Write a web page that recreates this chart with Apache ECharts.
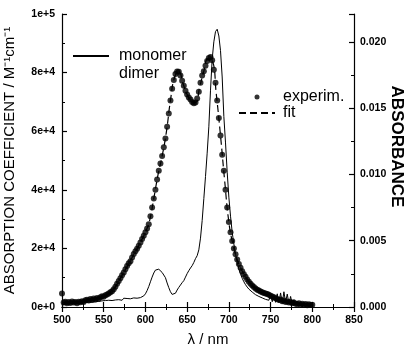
<!DOCTYPE html>
<html>
<head>
<meta charset="utf-8">
<script src="https://cdn.jsdelivr.net/npm/echarts@6.0.0/dist/echarts.min.js"></script>
<style>
  html, body { margin: 0; padding: 0; background: #fff; }
  #chart { width: 407px; height: 352px; }
</style>
</head>
<body>
<div id="chart"></div>
<script>
// wavelength grids (nm)
const range = (a, b, s) => { const r = []; for (let v = a; v <= b; v += s) r.push(v); return r; };
const expNm = range(500, 800, 2);
const monoNm = range(500, 790, 2);
const fitNm = range(500, 800, 5);

// experimental points, M^-1 cm^-1
const experim = [
  4600, 1500, 1800, 1300, 1700, 1400, 1900, 1500, 1700, 1300,
  1800, 1600, 2000, 1700, 2300, 2500, 2200, 2700, 2400, 2900,
  2600, 3100, 2800, 3300, 3700, 3500, 4000, 4300, 4600, 5000,
  5400, 6100, 6900, 7900, 8900, 9800, 10800, 11800, 12900, 14000,
  14900, 15600, 16900, 18100, 19000, 19900, 20900, 22000, 23200, 24300,
  25500, 26800, 28200, 31000, 34000, 37000, 40000, 43500, 46500, 49000,
  51500, 54500, 57500, 61500, 66000, 70500, 74500, 77500, 79500, 80400,
  80300, 79000, 77200, 75500, 73800, 72500, 71500, 70800, 70000, 69500,
  69800, 71200, 73500, 76500, 79000, 80500, 82300, 84000, 85000, 85300,
  84200, 81000, 76500, 70500, 64500, 58500, 52000, 46500, 40000, 34000,
  29000, 25500, 22500, 20000, 18000, 16200, 14700, 13400, 12200, 11200,
  10300, 9400, 8600, 7900, 7300, 6800, 6300, 5900, 5600, 5300,
  5000, 4800, 4600, 4400, 4200, 3800, 3600, 3300, 3000, 2700,
  2400, 2600, 2000, 2200, 1700, 1900, 1500, 1700, 1300, 1500,
  1100, 1000, 1300, 800, 1100, 700, 1000, 600, 900, 700, 800
];

// fitted curve
const fit = [
  1500, 1500, 1600, 1700, 1700, 1900, 2200, 2500, 2800, 3100,
  3600, 4400, 5500, 7300, 9800, 12300, 14800, 17400, 19900, 22600,
  25500, 29500, 37000, 45000, 51500, 59500, 70500, 78500, 80300, 76300,
  72500, 70300, 69800, 75000, 80500, 84600, 84200, 72500, 58500, 43000,
  29000, 21200, 16200, 12800, 10300, 8200, 6800, 5500, 4700, 4100,
  3300, 2700, 2100, 1800, 1500, 1300, 1100, 1000, 900, 800, 750
];

// monomer spectrum
const monomer = [
  800, 1200, 900, 1400, 1000, 1300, 1100, 1500, 1200, 1400,
  1100, 1600, 1300, 1700, 1500, 1800, 1600, 2000, 1700, 2100,
  1800, 2200, 1900, 2300, 2100, 2400, 2200, 2600, 2300, 2500,
  2200, 2700, 2400, 2900, 2500, 2800, 2300, 3000, 2600, 2900,
  2400, 2800, 2500, 3100, 2700, 3000, 2900, 3200, 3400, 3800,
  4500, 5600, 7000, 8600, 10200, 11600, 12600, 13200, 12900, 12300,
  11800, 11200, 10000, 8200, 6600, 5200, 4300, 4000, 4700, 5800,
  6700, 7500, 8300, 9000, 10200, 11400, 12400, 13300, 14100, 15200,
  16500, 17500, 19500, 23500, 29500, 37000, 44500, 52500, 61500, 74000,
  84500, 90500, 94000, 94800, 92500, 87500, 78500, 65000, 56000, 46000,
  37500, 31000, 25500, 21500, 18000, 15200, 13000, 11200, 9800, 8600,
  7600, 6800, 6100, 5500, 5100, 4600, 4200, 3900, 3600, 3400,
  3100, 3500, 2600, 3200, 2300, 4200, 1800, 3800, 1600, 4500,
  1500, 4800, 1200, 5200, 1600, 4400, 1100, 3600, 900, 2500,
  700, 1800, 600, 1200, 500, 800
];

const zip = (xs, ys) => xs.map((x, i) => [x, ys[i]]);

const sci = v => {
  if (v === 0) return '0e+0';
  const e = Math.floor(Math.log10(v));
  return Math.round(v / Math.pow(10, e)) + 'e+' + e;
};

const tickFont = { color: '#000', fontSize: 10.5, fontWeight: 'bold', fontFamily: 'Liberation Sans' };
const axisLine = { lineStyle: { color: '#000', width: 1.2 } };
const inTick = { inside: true, length: 5, lineStyle: { color: '#000', width: 1.2 } };
const minor = { show: true, splitNumber: 2, length: 3, lineStyle: { color: '#000', width: 1 } };
const hideSymbol = { itemStyle: { opacity: 0 } };

const chart = echarts.init(document.getElementById('chart'));
chart.setOption({
  animation: false,
  backgroundColor: '#fff',
  textStyle: { fontFamily: 'Liberation Sans', color: '#000' },
  grid: { left: 62, right: 53, top: 14, bottom: 45, outerBoundsMode: 'none', containLabel: false },
  legend: [
    {
      orient: 'vertical', left: 67, top: 43, itemGap: 2,
      itemWidth: 36, itemHeight: 8,
      textStyle: { fontSize: 16, color: '#000', padding: [0, 0, 0, 5] },
      data: [Object.assign({ name: 'monomer' }, hideSymbol), { name: 'dimer', icon: 'none' }]
    },
    {
      orient: 'vertical', left: 233, top: 84, itemGap: 0,
      itemWidth: 36, itemHeight: 5,
      textStyle: { fontSize: 16, color: '#000', padding: [0, 0, 0, 3] },
      data: [{ name: 'experim.' }, Object.assign({ name: 'fit' }, hideSymbol)]
    }
  ],
  xAxis: [
    {
      type: 'value', min: 500, max: 850, interval: 50,
      name: 'λ / nm', nameLocation: 'middle', nameGap: 25, nameMoveOverlap: false,
      nameTextStyle: { fontSize: 15, color: '#000' },
      axisLine: axisLine, axisTick: inTick, minorTick: minor,
      splitLine: { show: false },
      axisLabel: Object.assign({ margin: 8 }, tickFont)
    },
    {
      type: 'value', min: 500, max: 850, interval: 50, position: 'top',
      axisLine: axisLine, axisTick: inTick, minorTick: minor,
      splitLine: { show: false }, axisLabel: { show: false }
    }
  ],
  yAxis: [
    {
      type: 'value', min: 0, max: 100000, interval: 20000,
      name: 'ABSORPTION COEFFICIENT / M⁻¹cm⁻¹', nameLocation: 'middle', nameGap: 45, nameMoveOverlap: false,
      nameTextStyle: { fontSize: 15, color: '#000' },
      axisLine: axisLine, axisTick: inTick, minorTick: minor,
      splitLine: { show: false },
      axisLabel: Object.assign({ margin: 7, formatter: sci }, tickFont)
    },
    {
      type: 'value', min: 0, max: 0.0221, interval: 0.005, position: 'right',
      name: 'ABSORBANCE', nameLocation: 'middle', nameGap: 34, nameRotate: -90, nameMoveOverlap: false,
      nameTextStyle: { fontSize: 17, fontWeight: 'bold', color: '#000', padding: [0, 28, 0, 0] },
      axisLine: axisLine, axisTick: inTick, minorTick: minor,
      splitLine: { show: false },
      axisLabel: Object.assign({ margin: 6, showMaxLabel: false, formatter: v => v.toFixed(3) }, tickFont)
    }
  ],
  series: [
    {
      name: 'monomer', type: 'line', data: zip(monoNm, monomer),
      showSymbol: false, symbol: 'none',
      lineStyle: { color: '#000', width: 1 }, itemStyle: { color: '#000' }, z: 3
    },
    { name: 'dimer', type: 'line', data: [], symbol: 'none', itemStyle: { color: '#000' } },
    {
      name: 'experim.', type: 'scatter', data: zip(expNm, experim),
      symbol: 'circle', symbolSize: 6, itemStyle: { color: '#000' }, z: 4
    },
    {
      name: 'fit', type: 'line', data: zip(fitNm, fit), smooth: true,
      showSymbol: false, symbol: 'none',
      lineStyle: { color: '#000', width: 1.2, type: [7, 4] }, itemStyle: { color: '#000' }, z: 5
    }
  ]
});
</script>
</body>
</html>
